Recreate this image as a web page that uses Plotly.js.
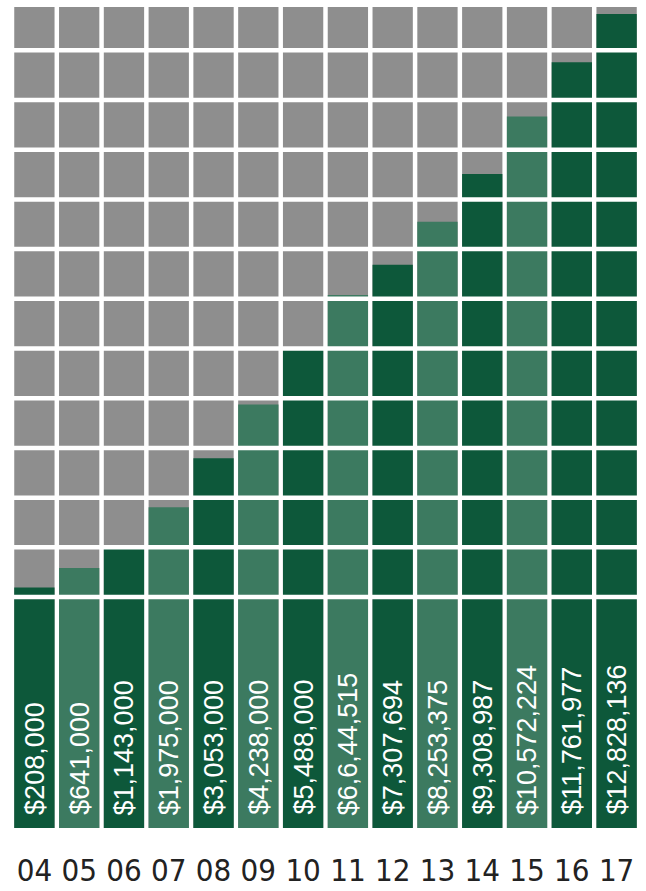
<!DOCTYPE html>
<html>
<head>
<meta charset="utf-8">
<script src="https://cdn.plot.ly/plotly-3.0.1.min.js"></script>
<style>
  html, body { margin: 0; padding: 0; background: #ffffff; }
  #chart { width: 646px; height: 891px; }
</style>
</head>
<body>
<div id="chart"></div>
<script>
// ---- data ----
const years = ["04", "05", "06", "07", "08", "09", "10", "11", "12", "13", "14", "15", "16", "17"];
const values = [208000, 641000, 1143000, 1975000, 3053000, 4238000, 5488000,
                6644515, 7307694, 8253375, 9308987, 10572224, 11761977, 12828136];
const valueLabels = ["$208,000", "$641,000", "$1,143,000", "$1,975,000", "$3,053,000",
                     "$4,238,000", "$5,488,000", "$6,6,44,515", "$7,307,694", "$8,253,375",
                     "$9,308,987", "$10,572,224", "$11,761,977", "$12,828,136"];

// ---- styling ----
const DARK = "#0d583a", LIGHT = "#3c7a60", GREY = "#8e8e8e";
const shade = ["d", "l", "d", "l", "d", "l", "d", "l", "d", "l", "d", "l", "d", "d"];
const Y_MAX = 12.98e6;     // top of the grey grid
const Y_MIN = -5.08e6;     // bottom of the label block
const GRID_STEP = 1.0935e6;
const GRID_LINES = 12;

const idx = years.map((_, i) => i);

const greyTrace = {
  type: "bar",
  x: idx,
  y: years.map(() => Y_MAX - Y_MIN),
  base: Y_MIN,
  marker: { color: GREY, line: { width: 0 } },
  hoverinfo: "skip",
  showlegend: false
};

const greenTrace = {
  type: "bar",
  x: idx,
  y: values.map(v => v - Y_MIN),
  base: Y_MIN,
  marker: { color: shade.map(s => s === "d" ? DARK : LIGHT), line: { width: 0 } },
  hoverinfo: "skip",
  showlegend: false
};

const shapes = [];
for (let k = 0; k < GRID_LINES; k++) {
  shapes.push({
    type: "line", xref: "paper", yref: "y",
    x0: 0, x1: 1, y0: k * GRID_STEP, y1: k * GRID_STEP,
    line: { color: "#ffffff", width: 4.5 },
    layer: "above"
  });
}

const annotations = idx.map(i => ({
  x: i, y: Y_MIN, xref: "x", yref: "y",
  text: valueLabels[i],
  textangle: -90,
  showarrow: false,
  xanchor: "center", yanchor: "bottom",
  yshift: 11,
  font: { family: "Liberation Sans, Arial, sans-serif", size: 27, color: "#ffffff" }
}));

const layout = {
  width: 646, height: 891,
  margin: { l: 12, r: 7, t: 7, b: 63, pad: 0 },
  paper_bgcolor: "#ffffff",
  plot_bgcolor: "#ffffff",
  barmode: "overlay",
  bargap: 0.1,
  xaxis: {
    type: "linear",
    range: [-0.5, years.length - 0.5],
    tickmode: "array",
    tickvals: idx,
    ticktext: years,
    showgrid: false, zeroline: false, showline: false,
    ticks: "", ticklen: 0,
    ticklabelstandoff: 21,
    tickfont: { family: "Liberation Sans Narrow, Arial Narrow, DejaVu Sans Condensed, sans-serif", size: 31, color: "#222222" },
    fixedrange: true
  },
  yaxis: {
    range: [Y_MIN, Y_MAX],
    visible: false,
    showgrid: false, zeroline: false,
    fixedrange: true
  },
  shapes: shapes,
  annotations: annotations,
  showlegend: false
};

Plotly.newPlot("chart", [greyTrace, greenTrace], layout, { displayModeBar: false, staticPlot: true });
</script>
</body>
</html>
